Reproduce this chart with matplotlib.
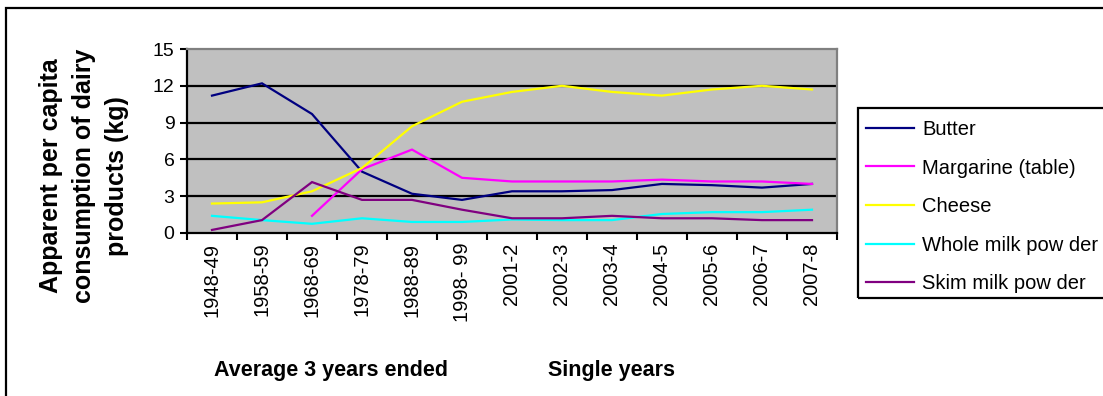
import matplotlib
matplotlib.use("Agg")
import matplotlib.pyplot as plt
from matplotlib.patches import Rectangle

plt.rcParams["font.family"] = ["Liberation Sans", "DejaVu Sans"]

# Apparent per capita consumption of dairy products (kg)
periods = ["1948-49", "1958-59", "1968-69", "1978-79", "1988-89", "1998- 99",
           "2001-2", "2002-3", "2003-4", "2004-5", "2005-6", "2006-7", "2007-8"]
butter = [11.2, 12.2, 9.7, 5.0, 3.2, 2.7, 3.4, 3.4, 3.5, 4.0, 3.9, 3.7, 4.0]
margarine = [None, None, 1.4, 5.2, 6.8, 4.5, 4.2, 4.2, 4.2, 4.35, 4.2, 4.2, 4.0]
cheese = [2.4, 2.5, 3.4, 5.3, 8.7, 10.7, 11.5, 12.0, 11.5, 11.2, 11.7, 12.0, 11.7]
whole_milk = [1.4, 1.05, 0.75, 1.2, 0.9, 0.9, 1.1, 1.05, 1.05, 1.55, 1.7, 1.7, 1.9]
skim_milk = [0.25, 1.05, 4.15, 2.7, 2.7, 1.9, 1.2, 1.2, 1.4, 1.2, 1.2, 1.05, 1.05]

series = [
    ("Butter", butter, "#000080"),
    ("Margarine (table)", margarine, "#FF00FF"),
    ("Cheese", cheese, "#FFFF00"),
    ("Whole milk pow der", whole_milk, "#00FFFF"),
    ("Skim milk pow der", skim_milk, "#800080"),
]

W, H = 1103, 396
fig = plt.figure(figsize=(W / 100, H / 100), dpi=100)
fig.patch.set_facecolor("white")

ax = fig.add_axes([187 / W, 1 - 233 / H, 650 / W, (233 - 49) / H])
ax.set_facecolor("#C0C0C0")

x = list(range(len(periods)))
handles = []
for name, vals, color in series:
    xs = [i for i, v in zip(x, vals) if v is not None]
    ys = [v for v in vals if v is not None]
    (ln,) = ax.plot(xs, ys, color=color, lw=1.6, label=name, solid_joinstyle="miter")
    handles.append(ln)

ax.set_xlim(-0.5, len(periods) - 0.5)
ax.set_ylim(0, 15)
ax.set_yticks([0, 3, 6, 9, 12, 15])
ax.set_xticks([i - 0.5 for i in range(len(periods) + 1)], minor=False)
ax.set_xticklabels([])
ax.set_xticks(x, minor=True)
ax.set_xticklabels(periods, minor=True, rotation=90, fontsize=14.5, va="top")
ax.tick_params(axis="x", which="minor", length=0, pad=7)
ax.tick_params(axis="x", which="major", length=5, width=1.5, direction="out", color="black")
ax.tick_params(axis="y", length=5, width=1.5, direction="out", labelsize=14, pad=4)

for yv in [3, 6, 9, 12]:
    ax.axhline(yv, color="black", lw=1.6, zorder=1)

for side in ["left", "bottom"]:
    ax.spines[side].set_color("black")
    ax.spines[side].set_linewidth(1.6)
for side in ["top", "right"]:
    ax.spines[side].set_color("#808080")
    ax.spines[side].set_linewidth(1.6)

# y-axis title
fig.text(84 / W, 1 - 176 / H, "Apparent per capita\nconsumption of dairy\nproducts (kg)",
         rotation=90, ha="center", va="center", fontsize=18, fontweight="bold",
         linespacing=1.45, multialignment="center")

# period group captions
fig.text(331 / W, 1 - 376 / H, "Average 3 years ended", ha="center", va="baseline",
         fontsize=15.5, fontweight="bold")
fig.text(612 / W, 1 - 376 / H, "Single years", ha="center", va="baseline",
         fontsize=15.5, fontweight="bold")

# legend
fig.legend(handles=handles, loc="upper left", bbox_to_anchor=(866 / W, 1 - 120 / H),
           frameon=False, fontsize=14.5, handlelength=2.4, handletextpad=0.38,
           labelspacing=0.97, borderpad=0, borderaxespad=0)
fig.patches.append(Rectangle((858 / W, 1 - 298 / H), 1.0, (298 - 108) / H,
                             transform=fig.transFigure, fill=False,
                             edgecolor="black", lw=1.6))

# outer chart frame
fig.patches.append(Rectangle((6 / W, -0.5), 2.0, 0.5 + 1 - 8 / H,
                             transform=fig.transFigure, fill=False,
                             edgecolor="black", lw=1.6))

fig.savefig("out.png", dpi=100)
